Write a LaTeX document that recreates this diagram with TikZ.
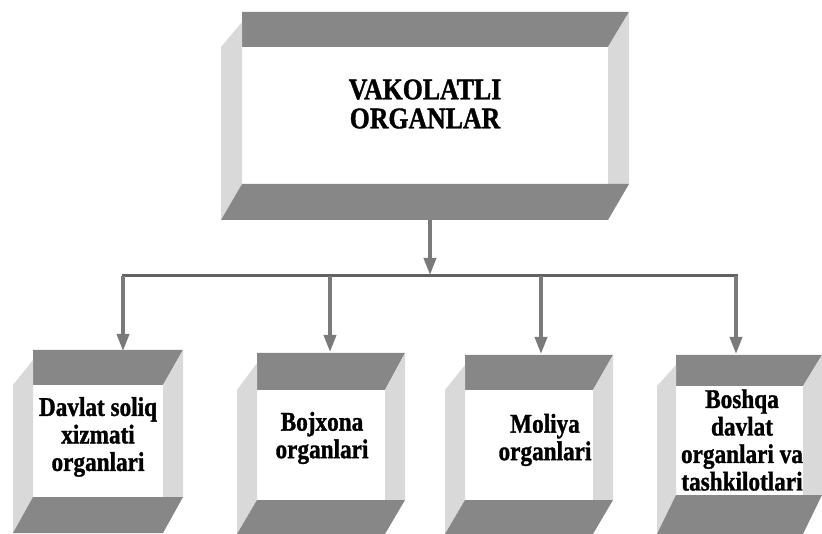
\documentclass[tikz,border=0pt]{standalone}
\usepackage{fontspec}
\setmainfont{Liberation Serif}
\newfontfamily\condbold[FakeStretch=0.86,FakeBold=1.2]{Liberation Serif Bold}
\usetikzlibrary{arrows.meta}
\definecolor{bandc}{gray}{0.53}
\definecolor{sidec}{gray}{0.85}
\definecolor{arrc}{gray}{0.48}
\definecolor{busc}{gray}{0.38}
% #1 x1, #2 y1, #3 x2, #4 y2 (inner white rectangle), #5 depth, #6 top band, #7 bottom band
\newcommand\myframe[7]{%
  \fill[bandc] (#1,{#2-#6}) -- ({#3+#5},{#2-#6}) -- (#3,#2) -- (#1,#2) -- cycle;
  \fill[sidec] (#3,#2) -- ({#3+#5},{#2-#6}) -- ({#3+#5},#4) -- (#3,#4) -- cycle;
  \fill[sidec] ({#1-#5},#2) -- (#1,{#2-#6+10}) -- (#1,#4) -- ({#1-#5},{#4+#7}) -- cycle;
  \fill[bandc] (#1,#4) -- ({#3+#5},#4) -- (#3,{#4+#7}) -- ({#1-#5},{#4+#7}) -- cycle;
}
\begin{document}
\begin{tikzpicture}[x=1pt,y=-1pt,
  lbl/.style={align=center,inner sep=0pt,font=\condbold\fontsize{27}{27.5}\selectfont},
  toplbl/.style={align=center,inner sep=0pt,font=\condbold\fontsize{30}{29}\selectfont},
  arr/.style={draw=arrc,line width=3.5pt,-{Triangle[width=12pt,length=17pt,fill=arrc]}},
  busline/.style={draw=busc,line width=3pt}]
\useasboundingbox (0,0) rectangle (822,534);
% frames
\myframe{242}{47}{608}{184}{21}{35}{36}
\myframe{33}{385}{163}{497}{20}{35}{36}
\myframe{257}{390}{385}{500}{20}{37}{34}
\myframe{465}{390}{593}{500}{20}{35}{34}
\myframe{676}{386}{803}{495}{19}{31}{39}
% texts
\node[toplbl] (top) at (425,104) {VAKOLATLI\\ORGANLAR};
\node[lbl] (b1) at (98,437) {Davlat soliq\\xizmati\\organlari};
\node[lbl] (b2) at (322,438) {Bojxona\\organlari};
\node[lbl] (b3) at (545,440) {Moliya\\organlari};
\node[lbl] (b4) at (742,440) {Boshqa\\davlat\\organlari va\\tashkilotlari};
% connectors
\coordinate (src) at (430,220);
\coordinate (bus) at (430,275);
\coordinate (j1) at (123,276);
\coordinate (j2) at (330,276);
\coordinate (j3) at (541,276);
\coordinate (j4) at (736,276);
\coordinate (e1) at (123,351);
\coordinate (e2) at (330,352);
\coordinate (e3) at (541,354);
\coordinate (e4) at (736,354);
\draw[busline] ([xshift=-1.5pt]j1) -- ([xshift=1.5pt]j4);
\draw[arr] (src) -- (bus);
\draw[arr] (j1) -- (e1);
\draw[arr] (j2) -- (e2);
\draw[arr] (j3) -- (e3);
\draw[arr] (j4) -- (e4);
\end{tikzpicture}
\end{document}
